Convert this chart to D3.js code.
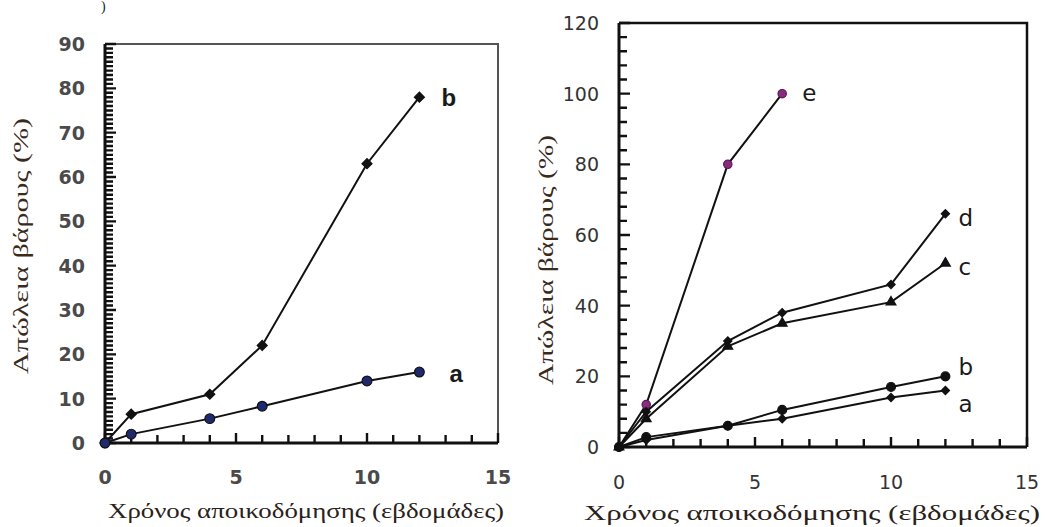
<!DOCTYPE html>
<html>
<head>
<meta charset="utf-8">
<script src="https://cdn.jsdelivr.net/npm/d3@7"></script>
<style>
  html, body { margin: 0; padding: 0; background: #fff; }
  svg { display: block; }
</style>
</head>
<body>
<svg id="chart" width="1045" height="527"></svg>
<script>
// Weight loss (%) against degradation time (weeks)
const weeks = [0, 1, 4, 6, 10, 12];
const weeksE = [0, 1, 4, 6];

// left panel series
const leftA = [0, 2, 5.5, 8.3, 14, 16];
const leftB = [0, 6.5, 11, 22, 63, 78];

// right panel series
const rightA = [0, 2, 6, 8, 14, 16];
const rightB = [0, 2.8, 6, 10.5, 17, 20];
const rightC = [0, 8, 28.5, 35, 41, 52];
const rightD = [0, 10, 30, 38, 46, 66];
const rightE = [0, 12, 80, 100];

// tick labels
const xTicks = [0, 5, 10, 15];
const leftYTicks = [0, 10, 20, 30, 40, 50, 60, 70, 80, 90];
const rightYTicks = [0, 20, 40, 60, 80, 100, 120];

const yTitle = "Απώλεια βάρους (%)";
const xTitle = "Χρόνος αποικοδόμησης (εβδομάδες)";

const svg = d3.select("#chart");

// small closing bracket at the top edge
svg.append("text").attr("x", 101).attr("y", 11)
  .attr("font-family", "Liberation Serif").attr("font-size", 14)
  .attr("fill", "#222").text(")");

function panel(opt) {
  const g = svg.append("g");
  const x = d3.scaleLinear().domain([0, 15]).range([opt.left, opt.right]);
  const y = d3.scaleLinear().domain([0, opt.ymax]).range([opt.bottom, opt.top]);

  // frame (top and right)
  g.append("path")
    .attr("d", `M${opt.left},${opt.top}H${opt.right}V${opt.bottom}`)
    .attr("fill", "none").attr("stroke", opt.frameColor).attr("stroke-width", opt.frameWidth);

  // axis lines
  g.append("path")
    .attr("d", `M${opt.left},${opt.top}V${opt.bottom}H${opt.right}`)
    .attr("fill", "none").attr("stroke", "#111").attr("stroke-width", 3);

  // inward ticks on the y axis (minor every yMinor, longer at labelled values)
  const yMinorVals = d3.range(0, opt.ymax + 0.001, opt.yMinor);
  g.append("path")
    .attr("d", yMinorVals.map(d => `M${opt.left},${y(d)}h${opt.yTicks.includes(d) ? 11 : 8}`).join(""))
    .attr("fill", "none").attr("stroke", "#111").attr("stroke-width", 2.4);

  // inward ticks on the x axis (every week)
  const xMinorVals = d3.range(0, 15.001, 1);
  g.append("path")
    .attr("d", xMinorVals.map(d => `M${x(d)},${opt.bottom}v${xTicks.includes(d) ? -10 : -8}`).join(""))
    .attr("fill", "none").attr("stroke", "#111").attr("stroke-width", 2.4);

  // tick labels
  g.append("g").selectAll("text").data(opt.yTicks).join("text")
    .attr("x", opt.left - opt.yLabelGap).attr("y", d => y(d))
    .attr("dy", "0.36em").attr("text-anchor", "end")
    .attr("font-family", "DejaVu Sans").attr("font-size", opt.tickSize)
    .attr("font-weight", opt.tickWeight).attr("fill", opt.tickColor)
    .text(d => d);
  g.append("g").selectAll("text").data(xTicks).join("text")
    .attr("x", d => x(d)).attr("y", opt.bottom + opt.xLabelGap)
    .attr("text-anchor", "middle")
    .attr("font-family", "DejaVu Sans").attr("font-size", opt.tickSize)
    .attr("font-weight", opt.tickWeight).attr("fill", opt.tickColor)
    .text(d => d);

  // axis titles
  g.append("text")
    .attr("transform", `translate(${opt.yTitleX},${opt.yTitleY}) rotate(-90)`)
    .attr("text-anchor", "middle")
    .attr("font-family", "Liberation Serif").attr("font-size", opt.titleSize)
    .attr("fill", "#3a2a1c")
    .attr("textLength", opt.yTitleLen).attr("lengthAdjust", "spacingAndGlyphs")
    .text(yTitle);
  g.append("text")
    .attr("x", opt.xTitleX).attr("y", opt.xTitleY)
    .attr("text-anchor", "middle")
    .attr("font-family", "Liberation Serif").attr("font-size", opt.titleSize)
    .attr("fill", "#2a2218")
    .attr("textLength", opt.xTitleLen).attr("lengthAdjust", "spacingAndGlyphs")
    .text(xTitle);

  // series
  const line = d3.line().x(d => x(d[0])).y(d => y(d[1]));
  opt.series.forEach(s => {
    const pts = s.xs.map((t, i) => [t, s.ys[i]]);
    g.append("path").datum(pts).attr("d", line)
      .attr("fill", "none").attr("stroke", "#111").attr("stroke-width", 2);
    g.append("g").selectAll("path").data(pts).join("path")
      .attr("transform", d => `translate(${x(d[0])},${y(d[1])})` + (s.rotate ? ` rotate(${s.rotate})` : ""))
      .attr("d", d3.symbol().type(s.symbol).size(s.size))
      .attr("fill", s.fill).attr("stroke", s.stroke).attr("stroke-width", 1.2);
    const last = pts[pts.length - 1];
    g.append("text")
      .attr("x", x(last[0]) + s.dx).attr("y", y(last[1]) + s.dy)
      .attr("font-family", s.labelFont).attr("font-size", s.labelSize)
      .attr("font-weight", s.labelWeight).attr("fill", "#1a1a1a")
      .text(s.label);
  });
}

panel({
  left: 105, right: 498, top: 44, bottom: 443, ymax: 90,
  yTicks: leftYTicks, yMinor: 1,
  frameColor: "#555", frameWidth: 2,
  tickSize: 19, tickWeight: "bold", tickColor: "#4a4a4a",
  yLabelGap: 20, xLabelGap: 41,
  titleSize: 21,
  yTitleX: 28, yTitleY: 246, yTitleLen: 256,
  xTitleX: 306, xTitleY: 518, xTitleLen: 396,
  series: [
    { xs: weeks, ys: leftB, symbol: d3.symbolSquare, rotate: 45, size: 50, fill: "#111", stroke: "#111",
      label: "b", dx: 22, dy: 9, labelFont: "Liberation Sans", labelSize: 24, labelWeight: "bold" },
    { xs: weeks, ys: leftA, symbol: d3.symbolCircle, size: 75, fill: "#1f2a6e", stroke: "#111",
      label: "a", dx: 30, dy: 10, labelFont: "Liberation Sans", labelSize: 24, labelWeight: "bold" }
  ]
});

panel({
  left: 619, right: 1027, top: 23, bottom: 447, ymax: 120,
  yTicks: rightYTicks, yMinor: 4,
  frameColor: "#111", frameWidth: 2.5,
  tickSize: 19, tickWeight: "normal", tickColor: "#333",
  yLabelGap: 20, xLabelGap: 42,
  titleSize: 22,
  yTitleX: 553, yTitleY: 260, yTitleLen: 250,
  xTitleX: 812, xTitleY: 520, xTitleLen: 456,
  series: [
    { xs: weeksE, ys: rightE, symbol: d3.symbolCircle, size: 55, fill: "#8a2a80", stroke: "#5a1a50",
      label: "e", dx: 20, dy: 7, labelFont: "DejaVu Sans", labelSize: 23, labelWeight: "normal" },
    { xs: weeks, ys: rightD, symbol: d3.symbolSquare, rotate: 45, size: 34, fill: "#111", stroke: "#111",
      label: "d", dx: 13, dy: 12, labelFont: "DejaVu Sans", labelSize: 23, labelWeight: "normal" },
    { xs: weeks, ys: rightC, symbol: d3.symbolTriangle, size: 42, fill: "#111", stroke: "#111",
      label: "c", dx: 13, dy: 12, labelFont: "DejaVu Sans", labelSize: 23, labelWeight: "normal" },
    { xs: weeks, ys: rightB, symbol: d3.symbolCircle, size: 62, fill: "#111", stroke: "#111",
      label: "b", dx: 13, dy: -1, labelFont: "DejaVu Sans", labelSize: 23, labelWeight: "normal" },
    { xs: weeks, ys: rightA, symbol: d3.symbolSquare, rotate: 45, size: 34, fill: "#111", stroke: "#111",
      label: "a", dx: 13, dy: 22, labelFont: "DejaVu Sans", labelSize: 23, labelWeight: "normal" }
  ]
});
</script>
</body>
</html>
